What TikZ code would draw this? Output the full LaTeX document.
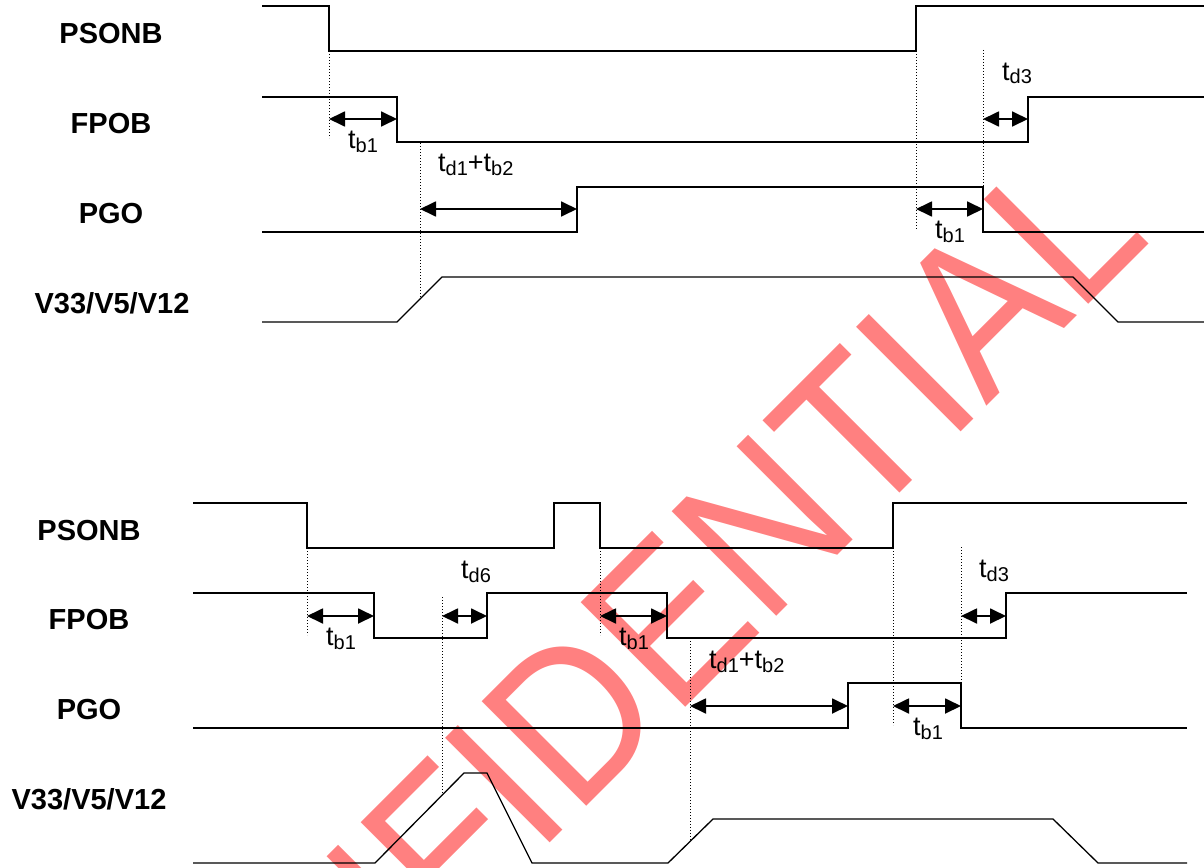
\documentclass[tikz,border=0pt]{standalone}
\usepackage{fontspec}
\setmainfont{Liberation Sans}
\usetikzlibrary{arrows.meta}
\definecolor{stampred}{HTML}{FF8080}
\newcommand{\tsub}[1]{t\raisebox{-4pt}{\fontsize{20}{20}\selectfont #1}}

\begin{document}
\begin{tikzpicture}[
  x=1pt, y=-1pt,
  signal/.style={line width=1.8pt, line join=miter},
  rail/.style={line width=1.3pt},
  guide/.style={line width=0.9pt, dash pattern=on 1.2pt off 1.8pt},
  span/.style={
    line width=1.8pt,
    {Triangle[length=16pt,width=15pt]}-{Triangle[length=16pt,width=15pt]},
  },
  signame/.style={font=\fontsize{29}{34}\selectfont\bfseries, inner sep=0pt, anchor=base},
  delay/.style={font=\fontsize{27}{30}\selectfont, inner sep=0pt, anchor=base west},
  stamp/.style={font=\fontsize{215}{230}\selectfont, text=stampred, inner sep=0pt, anchor=base},
]
  \useasboundingbox (0,0) rectangle (1204,867);

  % --- watermark ---
  \begin{scope}
    \clip (0,0) rectangle (1204,867);
    \begin{scope}[shift={(652,741)}, rotate=45]
      \node[stamp, xscale=0.9, transform shape] (mark) at (0,0) {CONFIDENTIAL};
    \end{scope}
  \end{scope}

  % --- power-on sequence ---
  \node[signame] (up-psonb) at (111,43.5)  {PSONB};
  \node[signame] (up-fpob)  at (111,133.5) {FPOB};
  \node[signame] (up-pgo)   at (111,223.5) {PGO};
  \node[signame] (up-rail)  at (112,313.5) {V33/V5/V12};

  \draw[signal] (262,6) -| (329,51) -| (916,6) -- (1204,6);
  \draw[signal] (262,97) -| (397,142) -| (1028,97) -- (1204,97);
  \draw[signal] (262,232) -| (577,187) -| (983,232) -- (1204,232);
  \draw[rail] (262,322) -- (397,322) -- (442,277) -- (1073,277) -- (1118,322) -- (1204,322);

  \draw[guide] (329,51) -- (329,138);
  \draw[guide] (420,143) -- (420,299);
  \draw[guide] (916,51) -- (916,229);
  \draw[guide] (983,50) -- (983,187);

  \coordinate (u1a) at (329,119);  \coordinate (u1b) at (397,119);
  \coordinate (u2a) at (420,209);  \coordinate (u2b) at (577,209);
  \coordinate (u3a) at (916,209);  \coordinate (u3b) at (983,209);
  \coordinate (u4a) at (983,119);  \coordinate (u4b) at (1028,119);
  \draw[span] (u1a) -- (u1b);
  \draw[span] (u2a) -- (u2b);
  \draw[span] (u3a) -- (u3b);
  \draw[span] (u4a) -- (u4b);

  \node[delay] (up-tb1)  at (348,148) {\tsub{b1}};
  \node[delay] (up-td1)  at (438,171) {\tsub{d1}+\tsub{b2}};
  \node[delay] (up-tb1b) at (935,238) {\tsub{b1}};
  \node[delay] (up-td3)  at (1002,80) {\tsub{d3}};

  % --- on/off glitch sequence ---
  \node[signame] (dn-psonb) at (89,540) {PSONB};
  \node[signame] (dn-fpob)  at (89,629) {FPOB};
  \node[signame] (dn-pgo)   at (89,719) {PGO};
  \node[signame] (dn-rail)  at (89,809) {V33/V5/V12};

  \draw[signal] (193,503) -| (307,548) -| (554,503) -| (600,548) -| (893,503) -- (1187,503);
  \draw[signal] (193,593) -| (374,638) -| (487,593) -| (667,638) -| (1006,593) -- (1187,593);
  \draw[signal] (193,728) -| (848,683) -| (961,728) -- (1187,728);
  \draw[rail] (193,863) -- (375,863) -- (464,773) -- (487,773) -- (532,863) -- (668,863)
    -- (713,819) -- (1053,819) -- (1098,863) -- (1187,863);

  \draw[guide] (307,548) -- (307,635);
  \draw[guide] (600,548) -- (600,635);
  \draw[guide] (442,597) -- (442,795);
  \draw[guide] (690,641) -- (690,841);
  \draw[guide] (893,548) -- (893,725);
  \draw[guide] (961,547) -- (961,683);

  \coordinate (d1a) at (307,616);  \coordinate (d1b) at (374,616);
  \coordinate (d2a) at (442,616);  \coordinate (d2b) at (487,616);
  \coordinate (d3a) at (600,616);  \coordinate (d3b) at (667,616);
  \coordinate (d4a) at (961,616);  \coordinate (d4b) at (1006,616);
  \coordinate (d5a) at (690,706);  \coordinate (d5b) at (848,706);
  \coordinate (d6a) at (893,706);  \coordinate (d6b) at (961,706);
  \draw[span] (d1a) -- (d1b);
  \draw[span] (d2a) -- (d2b);
  \draw[span] (d3a) -- (d3b);
  \draw[span] (d4a) -- (d4b);
  \draw[span] (d5a) -- (d5b);
  \draw[span] (d6a) -- (d6b);

  \node[delay] (dn-tb1)  at (326,645) {\tsub{b1}};
  \node[delay] (dn-td6)  at (461,578) {\tsub{d6}};
  \node[delay] (dn-tb1b) at (619,645) {\tsub{b1}};
  \node[delay] (dn-td3)  at (979,577) {\tsub{d3}};
  \node[delay] (dn-td1)  at (709,668) {\tsub{d1}+\tsub{b2}};
  \node[delay] (dn-tb1c) at (913,735) {\tsub{b1}};
\end{tikzpicture}
\end{document}
